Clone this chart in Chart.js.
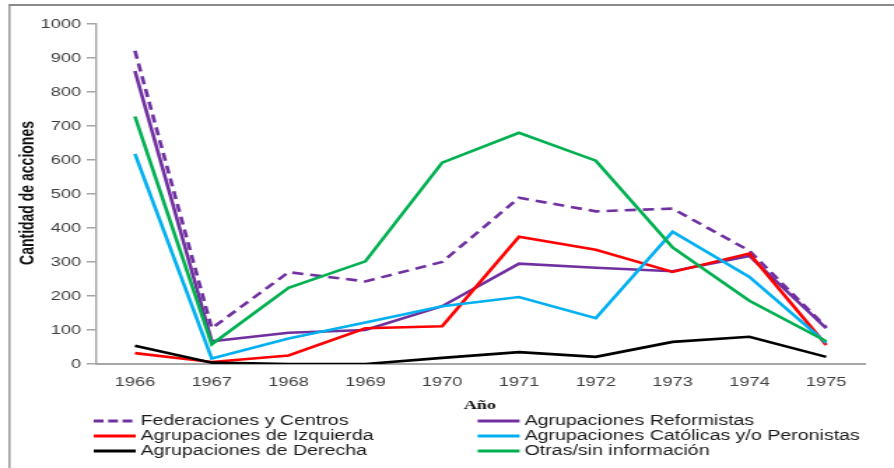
<!DOCTYPE html>
<html>
<head>
<meta charset="utf-8">
<script src="https://cdn.jsdelivr.net/npm/chart.js@4"></script>
<style>
html,body{margin:0;padding:0;background:#fff;overflow:hidden}
#wrap{width:639px;height:468px;transform:scaleX(1.399);transform-origin:0 0}
</style>
</head>
<body>
<div id="wrap"><canvas id="c" width="639" height="468"></canvas></div>
<script>
// ---- data ----
const years = ['1966','1967','1968','1969','1970','1971','1972','1973','1974','1975'];
const yTicks = [0,100,200,300,400,500,600,700,800,900,1000];
const federaciones = [921,105,270,243,300,489,449,457,333,108];
const reformistas  = [862,67,92,100,170,295,283,273,318,105];
const izquierda    = [32,6,25,105,111,374,336,271,325,56];
const catolicas    = [618,16,75,122,170,197,135,389,256,62];
const derecha      = [54,4,0,0,18,35,21,65,80,21];
const otras        = [728,58,224,302,592,680,598,343,186,67];
const seriesNames = ['Federaciones y Centros','Agrupaciones Reformistas','Agrupaciones de Izquierda',
  'Agrupaciones Católicas y/o Peronistas','Agrupaciones de Derecha','Otras/sin información'];
const yTitle = 'Cantidad de acciones';
const xTitle = 'Año';

const FONT = '"Liberation Sans", Arial, sans-serif';
const colors = ['#7030A0','#7030A0','#FF0000','#00B0F0','#000000','#00B050'];
const dashes = [[8,5],[],[],[],[],[]];
const seriesData = [federaciones,reformistas,izquierda,catolicas,derecha,otras];

const datasets = seriesData.map((d,i)=>({
  label: seriesNames[i],
  data: d,
  borderColor: colors[i],
  backgroundColor: colors[i],
  borderDash: dashes[i],
  borderWidth: 2.6,
  pointRadius: 0,
  tension: 0,
  fill: false,
  order: seriesData.length - 1 - i
}));

const decor = {
  id: 'decor',
  afterDraw(chart){
    const ctx = chart.ctx;
    ctx.save();
    // outer frame (top + left)
    ctx.strokeStyle = '#8a8a8a';
    ctx.lineWidth = 2;
    ctx.beginPath(); ctx.moveTo(6, 5); ctx.lineTo(645, 5); ctx.stroke();
    ctx.lineWidth = 1.3;
    ctx.beginPath(); ctx.moveTo(6.8, 4); ctx.lineTo(6.8, 470); ctx.stroke();

    // y axis title
    ctx.save();
    ctx.translate(19.8, 193);
    ctx.rotate(-Math.PI/2);
    ctx.font = 'bold 14px ' + FONT;
    ctx.fillStyle = '#111';
    ctx.textAlign = 'center';
    ctx.textBaseline = 'middle';
    ctx.fillText(yTitle, 0, 0);
    ctx.restore();

    // x axis title
    ctx.font = 'bold 13px "Liberation Serif", "Times New Roman", serif';
    ctx.fillStyle = '#111';
    ctx.textAlign = 'center';
    ctx.textBaseline = 'middle';
    ctx.fillText(xTitle, 343, 406);

    // legend (2 columns x 3 rows)
    const colX = [67, 341.4];
    const lineLen = 30;
    const rowY = [421, 436, 451];
    ctx.font = '14px ' + FONT;
    ctx.textAlign = 'left';
    chart.data.datasets.forEach((ds,i)=>{
      const c = i % 2, r = Math.floor(i/2);
      const x = colX[c], y = rowY[r];
      ctx.strokeStyle = ds.borderColor;
      ctx.lineWidth = 3;
      ctx.setLineDash(ds.borderDash && ds.borderDash.length ? [7,3.3] : []);
      ctx.beginPath(); ctx.moveTo(x, y); ctx.lineTo(x + lineLen, y); ctx.stroke();
      ctx.setLineDash([]);
      ctx.fillStyle = '#1a1a1a';
      ctx.fillText(ds.label, x + lineLen + 3.5, y);
    });
    ctx.restore();
  }
};

new Chart(document.getElementById('c'), {
  type: 'line',
  data: { labels: years, datasets },
  options: {
    responsive: false,
    animation: false,
    devicePixelRatio: 1,
    layout: { padding: { left: 0, right: 21, top: 24, bottom: 0 } },
    plugins: { legend: { display: false }, tooltip: { enabled: false } },
    scales: {
      x: {
        offset: true,
        grid: { display: false, drawTicks: false },
        border: { display: true, color: '#a6a6a6', width: 2 },
        ticks: { padding: 11, color: '#404040', font: { family: FONT, size: 13 }, maxRotation: 0, autoSkip: false },
        afterFit(s){ s.height = 104; }
      },
      y: {
        min: 0, max: 1000,
        afterBuildTicks(s){ s.ticks = yTicks.map(v => ({ value: v })); },
        grid: { drawOnChartArea: false, drawTicks: true, tickLength: 7, color: '#a6a6a6', lineWidth: 1.5 },
        border: { display: true, color: '#a6a6a6', width: 1.4 },
        ticks: { padding: 4, color: '#404040', font: { family: FONT, size: 13 }, callback: v => String(v) },
        afterFit(s){ s.width = 69; }
      }
    }
  },
  plugins: [decor]
});
</script>
</body>
</html>
